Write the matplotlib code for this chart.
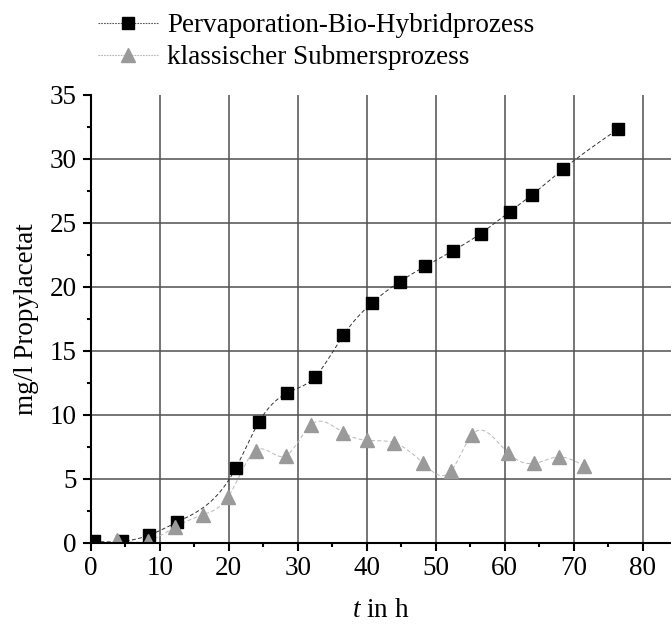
import numpy as np
import matplotlib
matplotlib.use("Agg")
import matplotlib.pyplot as plt
from matplotlib.ticker import MultipleLocator

# Propyl acetate concentration over time for the two process variants
t_pv = [0.5, 4.5, 8.5, 12.5, 21.0, 24.4, 28.5, 32.5, 36.6, 40.7, 44.8, 48.5,
        52.5, 56.5, 60.7, 64.0, 68.5, 76.4]
c_pv = [0.1, 0.1, 0.6, 1.6, 5.8, 9.45, 11.7, 12.95, 16.2, 18.7, 20.4, 21.6,
        22.8, 24.15, 25.85, 27.2, 29.2, 32.3]

t_sub = [3.8, 8.3, 12.2, 16.3, 19.95, 23.9, 28.3, 31.9, 36.6, 40.0, 44.0,
         48.2, 52.2, 55.3, 60.5, 64.3, 67.8, 71.5]
c_sub = [0.2, 0.15, 1.2, 2.2, 3.6, 7.2, 6.8, 9.2, 8.6, 8.0, 7.8, 6.2, 5.6,
         8.45, 7.0, 6.2, 6.7, 6.0]

labels = ["Pervaporation-Bio-Hybridprozess", "klassischer Submersprozess"]
x_ticks = [0, 10, 20, 30, 40, 50, 60, 70, 80]
y_ticks = [0, 5, 10, 15, 20, 25, 30, 35]


def natural_spline(x, y, n=600):
    """Natural cubic spline through (x, y), sampled on a fine grid."""
    x = np.asarray(x, float)
    y = np.asarray(y, float)
    m = len(x)
    h = np.diff(x)
    A = np.zeros((m, m))
    b = np.zeros(m)
    A[0, 0] = A[-1, -1] = 1.0
    for i in range(1, m - 1):
        A[i, i - 1] = h[i - 1]
        A[i, i] = 2 * (h[i - 1] + h[i])
        A[i, i + 1] = h[i]
        b[i] = 3 * ((y[i + 1] - y[i]) / h[i] - (y[i] - y[i - 1]) / h[i - 1])
    c = np.linalg.solve(A, b)
    xs = np.linspace(x[0], x[-1], n)
    idx = np.clip(np.searchsorted(x, xs) - 1, 0, m - 2)
    dx = xs - x[idx]
    bb = (y[idx + 1] - y[idx]) / h[idx] - h[idx] * (2 * c[idx] + c[idx + 1]) / 3
    dd = (c[idx + 1] - c[idx]) / (3 * h[idx])
    ys = y[idx] + bb * dx + c[idx] * dx ** 2 + dd * dx ** 3
    return xs, ys


plt.rcParams["font.family"] = ["Liberation Serif", "DejaVu Serif"]
plt.rcParams["mathtext.fontset"] = "custom"
plt.rcParams["mathtext.it"] = "Liberation Serif:italic"
plt.rcParams["mathtext.rm"] = "Liberation Serif"

fs = 19.5
W, H = 671, 625
fig = plt.figure(figsize=(W / 100, H / 100), dpi=100)
left, right, bottom, top = 90.7, 671.0, 542.7, 94.7
ax = fig.add_axes([left / W, (H - bottom) / H, (right - left) / W, (bottom - top) / H])

pv_col = "black"
sub_col = "#9a9a9a"

xs, ys = natural_spline(t_pv, c_pv)
ax.plot(xs, ys, color="#333333", lw=0.7, ls=(0, (4, 2.5)), zorder=3)
xs2, ys2 = natural_spline(t_sub, c_sub)
ax.plot(xs2, ys2, color="#b8b8b8", lw=0.7, ls=(0, (4, 2.5)), zorder=3)

ax.plot(t_pv, c_pv, ls="none", marker="s", ms=8, color=pv_col, mec=pv_col, zorder=4)
ax.plot(t_sub, c_sub, ls="none", marker="^", ms=10, color=sub_col, mec=sub_col, zorder=4)

# legend proxies: dotted line with the marker in the middle
h1, = ax.plot([], [], color="#555555", lw=0.8, ls=(0, (1.5, 1)), marker="s", ms=8,
              mfc=pv_col, mec=pv_col)
h2, = ax.plot([], [], color="#b4b4b4", lw=0.8, ls=(0, (1.5, 1)), marker="^", ms=10,
              mfc=sub_col, mec=sub_col)
fig.legend([h1, h2], labels, loc="upper left", bbox_to_anchor=(98 / W, 1 - 13 / H),
           frameon=False, fontsize=fs, handlelength=2.2, handletextpad=0.35,
           labelspacing=0.27, borderpad=0, borderaxespad=0, numpoints=1)

ax.set_xlim(0, (right - left) / 6.9)
ax.set_ylim(0, 35)
ax.set_xticks(x_ticks)
ax.set_yticks(y_ticks)
ax.xaxis.set_minor_locator(MultipleLocator(5))
ax.yaxis.set_minor_locator(MultipleLocator(2.5))

grid_col = "#505050"
for x in x_ticks[1:]:
    ax.axvline(x, color=grid_col, lw=1.1, zorder=1)
for y in y_ticks[1:-1]:
    ax.axhline(y, color=grid_col, lw=1.1, zorder=1)

for s in ("top", "right"):
    ax.spines[s].set_visible(False)
for s in ("left", "bottom"):
    ax.spines[s].set_linewidth(1.5)
    ax.spines[s].set_zorder(5)

ax.tick_params(which="major", direction="out", length=6, width=1.5,
               labelsize=fs, color="black")
ax.tick_params(which="minor", direction="out", length=3, width=1.5, color="black")
ax.tick_params(axis="y", which="major", pad=4)
ax.tick_params(axis="x", which="major", pad=3.5)

ax.set_xlabel(r"$t$ in h", fontsize=fs, labelpad=12)
ax.set_ylabel("mg/l Propylacetat", fontsize=fs, labelpad=8)

fig.savefig("out.png", dpi=100)
